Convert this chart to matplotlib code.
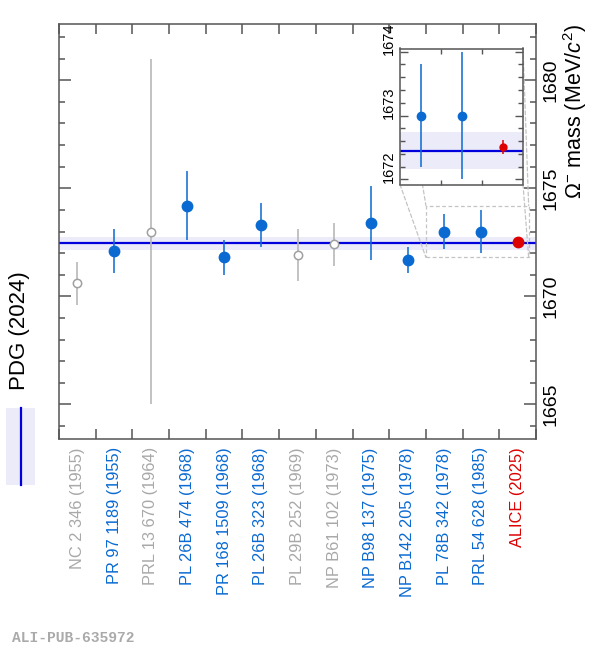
import numpy as np
import matplotlib
matplotlib.use("Agg")
import matplotlib.pyplot as plt
from matplotlib.patches import Rectangle, ConnectionPatch
from matplotlib.lines import Line2D
from matplotlib.ticker import MultipleLocator
import matplotlib.transforms as mtransforms

plt.rcParams['font.family'] = ['Liberation Sans', 'DejaVu Sans']
plt.rcParams['mathtext.fontset'] = 'custom'
plt.rcParams['mathtext.rm'] = 'Liberation Sans'
plt.rcParams['mathtext.it'] = 'Liberation Sans:italic'

# measurements of the Omega- mass (MeV/c^2)
labels = ['NC 2 346 (1955)', 'PR 97 1189 (1955)', 'PRL 13 670 (1964)',
          'PL 26B 474 (1968)', 'PR 168 1509 (1968)', 'PL 26B 323 (1968)',
          'PL 29B 252 (1969)', 'NP B61 102 (1973)', 'NP B98 137 (1975)',
          'NP B142 205 (1978)', 'PL 78B 342 (1978)', 'PRL 54 628 (1985)',
          'ALICE (2025)']
mass = [1670.6, 1672.1, 1673.0, 1674.2, 1671.8, 1673.3, 1671.9,
        1672.4, 1673.4, 1671.7, 1673.0, 1673.0, 1672.51]
err = [1.0, 1.0, 8.0, 1.6, 0.8, 1.0, 1.2, 1.0, 1.7, 0.6, 0.8, 1.0, 0.11]
# 'gray' = not used in the PDG average, 'blue' = used, 'red' = this work
kind = ['gray', 'blue', 'gray', 'blue', 'blue', 'blue', 'gray', 'gray',
        'blue', 'blue', 'blue', 'blue', 'red']

pdg_mass = 1672.45
pdg_err = 0.29

BLUE = '#0a6ad2'
GRAY = '#a8a8a8'
RED = '#dd0000'
BAND = '#ebebfa'
LINE = '#0000dd'
FRAME = '#555555'
colors = {'gray': GRAY, 'blue': BLUE, 'red': RED}

fig = plt.figure(figsize=(5.96, 6.5), dpi=100)
ax = fig.add_axes([59/596, 1-439/650, 477/596, 415/650])

xpos = np.arange(len(mass)) + 0.5


def draw_points(a, big=True):
    a.axhspan(pdg_mass - pdg_err, pdg_mass + pdg_err, color=BAND, lw=0, zorder=1)
    a.axhline(pdg_mass, color=LINE, lw=1.6, zorder=2)
    for xi, m, e, k in zip(xpos, mass, err, kind):
        if big is False and xi < 10:
            continue
        c = colors[k]
        if k == 'gray':
            a.errorbar(xi, m, yerr=e, fmt='o', ms=6, mfc='white', mec='#a0a0a0',
                       mew=1.1, ecolor='#b8b8b8', elinewidth=1.2, capsize=0, zorder=3)
        else:
            ms = 7.5 if big else 6
            if k == 'red' and not big:
                ms = 5
            a.errorbar(xi, m, yerr=e, fmt='o', ms=ms, mfc=c, mec=c,
                       ecolor=c, elinewidth=1.1, capsize=0, zorder=4)


draw_points(ax, big=True)

ax.set_xlim(0, len(mass))
ax.set_ylim(1663.4, 1682.6)
ax.set_xticks(np.arange(len(mass) + 1))
ax.set_xticklabels([])
ax.set_xticks(xpos, labels, minor=True)
ax.tick_params(axis='x', which='major', direction='in', length=7, top=True,
               bottom=True, width=1.1, color=FRAME)
ax.tick_params(axis='x', which='minor', length=0, pad=6, labelsize=11.8,
               labelrotation=90)
for lab, k in zip(ax.get_xticklabels(minor=True), kind):
    lab.set_color(colors[k])
    lab.set_va('top')

ax.yaxis.set_major_locator(MultipleLocator(5))
ax.yaxis.set_minor_locator(MultipleLocator(1))
ax.tick_params(axis='y', which='both', direction='in', left=True, right=True,
               labelleft=False, labelright=True, width=1.1, color=FRAME)
ax.tick_params(axis='y', which='major', length=8.5, labelsize=14,
               labelrotation=90, pad=5)
ax.tick_params(axis='y', which='minor', length=4.5)
for lab in ax.get_yticklabels():
    lab.set_va('center')
    lab.set_ha('left')
ax.yaxis.set_label_position('right')
ax.set_ylabel(r'$\Omega^{-}$ mass (MeV/$c^{2}$)', fontsize=15.5, loc='top',
              labelpad=1)
for s in ax.spines.values():
    s.set_color(FRAME)
    s.set_linewidth(1.1)

# zoom window
zx0, zx1, zy0, zy1 = 10.0, 12.8, 1671.8, 1674.2
ax.add_patch(Rectangle((zx0, zy0), zx1 - zx0, zy1 - zy0, fill=False,
                       ls=(0, (3, 2)), ec='#c4c4c4', lw=0.9, zorder=2.5))

axin = fig.add_axes([400/596, 1-184.5/650, 123/596, 136/650])
axin.set_facecolor('white')
draw_points(axin, big=False)
axin.set_xlim(10, 13)
axin.set_ylim(1671.92, 1674.05)
axin.set_xticks([11, 12])
axin.set_xticklabels([])
axin.tick_params(axis='x', direction='in', length=3.6, top=True, width=1,
                 color=FRAME)
axin.yaxis.set_major_locator(MultipleLocator(1))
axin.yaxis.set_minor_locator(MultipleLocator(0.2))
axin.tick_params(axis='y', which='both', direction='in', left=True, right=True,
                 width=1, color=FRAME)
axin.tick_params(axis='y', which='major', length=6, labelsize=10.5,
                 labelrotation=90, pad=3)
axin.tick_params(axis='y', which='minor', length=3.5)
shift = mtransforms.ScaledTranslation(0, 9/72, fig.dpi_scale_trans)
for lab in axin.get_yticklabels():
    lab.set_va('center')
    lab.set_transform(lab.get_transform() + shift)
for s in axin.spines.values():
    s.set_color(FRAME)
    s.set_linewidth(1.1)

for (ia, ib) in [((0, 0), (zx0, zy0)), ((1, 0), (zx1, zy0)),
                 ((0, 1), (zx0, zy1)), ((1, 1), (zx1, zy1))]:
    cp = ConnectionPatch(xyA=ia, coordsA=axin.transAxes, xyB=ib,
                         coordsB=ax.transData, ls=(0, (3, 2)), color='#c4c4c4',
                         lw=0.9, zorder=2.5)
    cp.set_clip_on(False)
    ax.add_artist(cp)

# PDG legend, rotated like the rest of the figure
fig.patches.append(Rectangle((6/596, 1-485/650), 29/596, 77/650,
                             transform=fig.transFigure, color=BAND, lw=0))
fig.lines.append(Line2D([20.7/596, 20.7/596], [1-408/650, 1-485/650],
                        transform=fig.transFigure, color=LINE, lw=1.6))
fig.text(20/596, 1-331/650, 'PDG (2024)', rotation=90, fontsize=16,
         ha='center', va='center')

fig.text(12/596, 1-638/650, 'ALI-PUB-635972', family='Liberation Mono',
         weight='bold', color='#aaaaaa', fontsize=10.5, va='center')

fig.savefig('out.png', dpi=100)
